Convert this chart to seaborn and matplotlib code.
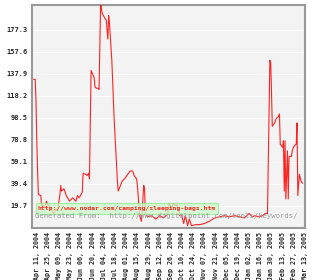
import pandas as pd
import matplotlib
matplotlib.use('Agg')
import matplotlib.pyplot as plt
from matplotlib.patches import Rectangle
import seaborn as sns

# keyword search counts
dates = [
    '2004-04-07', '2004-04-09', '2004-04-10', '2004-04-11', '2004-04-12', '2004-04-13',
    '2004-04-16', '2004-04-17', '2004-04-18', '2004-04-21', '2004-04-23', '2004-04-25',
    '2004-04-27', '2004-04-30', '2004-05-02', '2004-05-05', '2004-05-07', '2004-05-10',
    '2004-05-11', '2004-05-12', '2004-05-15', '2004-05-17', '2004-05-18', '2004-05-22',
    '2004-05-26', '2004-05-30', '2004-06-01', '2004-06-03', '2004-06-07', '2004-06-08',
    '2004-06-11', '2004-06-13', '2004-06-15', '2004-06-16', '2004-06-18', '2004-06-21',
    '2004-06-22', '2004-06-23', '2004-06-25', '2004-06-27', '2004-06-28', '2004-06-30',
    '2004-07-01', '2004-07-02', '2004-07-05', '2004-07-07', '2004-07-09', '2004-07-10',
    '2004-07-11', '2004-07-14', '2004-07-17', '2004-07-21', '2004-07-22', '2004-07-27',
    '2004-07-30', '2004-08-02', '2004-08-06', '2004-08-09', '2004-08-11', '2004-08-14',
    '2004-08-15', '2004-08-18', '2004-08-20', '2004-08-23', '2004-08-24', '2004-08-25',
    '2004-08-28', '2004-09-02', '2004-09-07', '2004-09-12', '2004-09-17', '2004-09-22',
    '2004-09-24', '2004-09-27', '2004-09-29', '2004-10-02', '2004-10-04', '2004-10-07',
    '2004-10-09', '2004-10-12', '2004-10-14', '2004-10-17', '2004-10-19', '2004-10-22',
    '2004-10-27', '2004-11-01', '2004-11-07', '2004-11-13', '2004-11-20', '2004-11-26',
    '2004-12-02', '2004-12-08', '2004-12-15', '2004-12-21', '2004-12-27', '2005-01-02',
    '2005-01-06', '2005-01-09', '2005-01-14', '2005-01-19', '2005-01-22', '2005-01-25',
    '2005-01-28', '2005-01-29', '2005-01-30', '2005-01-31', '2005-02-03', '2005-02-05',
    '2005-02-08', '2005-02-09', '2005-02-10', '2005-02-13', '2005-02-14', '2005-02-15',
    '2005-02-16', '2005-02-17', '2005-02-19', '2005-02-20', '2005-02-21', '2005-02-24',
    '2005-02-25', '2005-02-27', '2005-03-02', '2005-03-03', '2005-03-04', '2005-03-06',
    '2005-03-08', '2005-03-10',
]
searches = [
    133, 133, 114, 78, 51, 30,
    29, 20, 21, 18, 24, 21,
    20, 15, 13, 17, 15, 30,
    38, 33, 35, 31, 29, 24,
    27, 24, 29, 27, 32, 49,
    48, 47, 49, 44, 141, 136,
    134, 126, 125, 125, 124, 203,
    196, 192, 188, 186, 169, 190,
    184, 150, 96, 42, 33, 42,
    44, 47, 51, 51, 47, 44,
    38, 11, 6, 38, 35, 13,
    10, 11, 8, 11, 9, 13,
    22, 17, 22, 20, 21, 11,
    13, 4, 11, 2, 8, 2,
    3, 3, 4, 6, 9, 10,
    11, 10, 11, 10, 9, 13,
    10, 11, 10, 11, 13, 13,
    150, 148, 123, 91, 94, 98,
    100, 102, 75, 72, 78, 33,
    78, 26, 69, 26, 64, 64,
    69, 73, 75, 94, 29, 48,
    42, 40,
]
ytick_vals = [19.7, 39.4, 59.1, 78.8, 98.5, 118.2, 137.9, 157.6, 177.3]
tick_start = '2004-04-11'
tick_end = '2005-03-13'
source_url = 'http://www.nodar.com/camping/sleeping-bags.htm'
footer = 'Generated From:  http://www.digitalpoint.com/tools/keywords/'

df = pd.DataFrame({'date': pd.to_datetime(dates), 'searches': searches})

sns.set_style('white', {'axes.facecolor': '#f3f3f3'})
mono = ['DejaVu Sans Mono']

fig = plt.figure(figsize=(3.13, 2.8), dpi=100)
ax = fig.add_axes([32 / 313, 52 / 280, 273 / 313, 223 / 280])

sns.lineplot(data=df, x='date', y='searches', ax=ax, color='#ff0000',
             linewidth=0.8, alpha=0.85, zorder=3)

ax.set_xlim(pd.Timestamp('2004-04-05'), pd.Timestamp(tick_end))
ax.set_ylim(0, 199.5)

ax.set_yticks(ytick_vals)
ax.set_yticklabels([f'{v:.1f}' for v in ytick_vals], fontsize=5,
                   family=mono, fontweight='bold')
ax.yaxis.grid(True, color='white', linewidth=0.8)
ax.set_axisbelow(True)

xticks = pd.date_range(tick_start, tick_end, freq='14D')
ax.set_xticks(xticks)
ax.set_xticklabels([d.strftime('%b %d, %Y') for d in xticks], rotation=90,
                   fontsize=4.8, family=mono, fontweight='bold')
ax.tick_params(length=0, pad=3)
ax.set_xlabel('')
ax.set_ylabel('')

for s in ax.spines.values():
    s.set_visible(True)
    s.set_color('#999999')
    s.set_linewidth(1.5)

ax.add_patch(Rectangle((0.015, 0.063), 0.666, 0.049, transform=ax.transAxes,
                       facecolor='#ccffcc', edgecolor='#88ee88', linewidth=0.8,
                       alpha=0.75, zorder=4))
ax.text(0.02, 0.0875, source_url, transform=ax.transAxes, fontsize=4.6,
        family=mono, color='#ff2222', fontweight='bold', va='center',
        ha='left', zorder=5)
ax.text(0.011, 0.052, footer, transform=ax.transAxes, fontsize=5.2,
        family=mono, color='#999999', va='center', ha='left', zorder=5)

fig.savefig('out.png', dpi=100)
